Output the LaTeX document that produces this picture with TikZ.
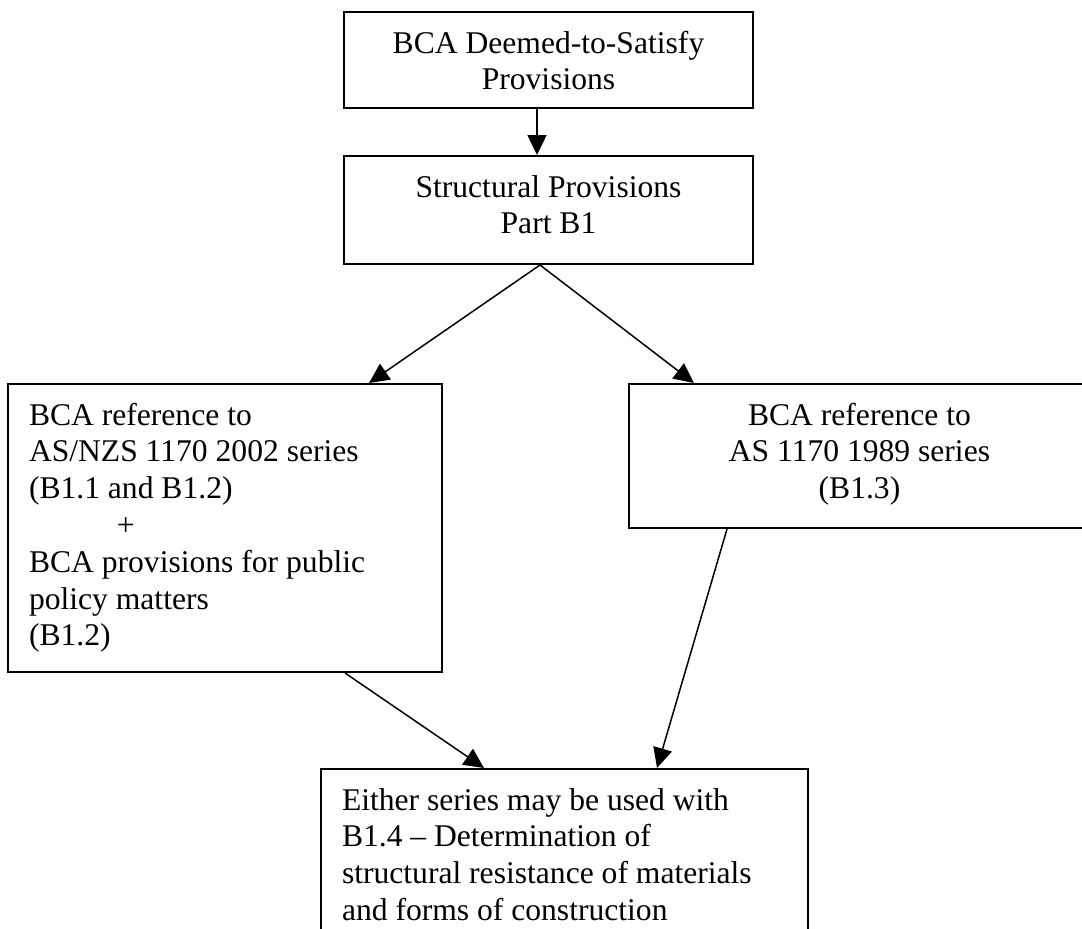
\documentclass[tikz,border=0pt]{standalone}
\usepackage{fontspec}
\setmainfont{Liberation Serif}
\usetikzlibrary{arrows.meta}
\newcommand\BoxC[3]{\parbox[c][#2][t]{#1}{\centering\rule{0pt}{41pt}#3\par}}
\newcommand\BoxL[3]{\hspace*{21pt}\parbox[c][#2][t]{\dimexpr#1-21pt\relax}{\raggedright\rule{0pt}{41pt}#3\par}}
\begin{document}
\begin{tikzpicture}[x=1pt,y=-1pt,
  box/.style={draw, line width=2pt, inner sep=0pt, font=\fontsize{31.6pt}{36.8pt}\selectfont},
  arr/.style={line width=1.5pt, -{Triangle[length=20pt,width=19pt]}}]
\useasboundingbox (0,0) rectangle (1082,929);
\clip (0,0) rectangle (1082,929);
\node[box] (top) at (548.5,60) {\BoxC{409pt}{96pt}{BCA Deemed-to-Satisfy\\Provisions}};
\node[box] (sp) at (548.5,210) {\BoxC{409pt}{108pt}{Structural Provisions\\Part B1}};
\node[box] (lb) at (225,528) {\BoxL{434pt}{288pt}{BCA reference to\\AS/NZS 1170 2002 series\\(B1.1 and B1.2)\\\hspace*{88pt}+\\BCA provisions for public\\policy matters\\(B1.2)}};
\node[box] (rb) at (859.5,456) {\BoxC{461pt}{144pt}{BCA reference to\\AS 1170 1989 series\\(B1.3)}};
\node[box] (bb) at (564.5,869) {\BoxL{487pt}{200pt}{Either series may be used with\\B1.4 – Determination of\\structural resistance of materials\\and forms of construction}};
\draw[arr] ([xshift=-11.5pt]top.south) -- ([xshift=-11.5pt]sp.north);
\draw[arr] ([xshift=-8.5pt]sp.south) -- ([xshift=362pt]lb.north west);
\draw[arr] ([xshift=-8.5pt]sp.south) -- ([xshift=66pt]rb.north west);
\draw[arr] ([xshift=338pt]lb.south west) -- ([xshift=164pt]bb.north west);
\draw[arr] ([xshift=99pt]rb.south west) -- ([xshift=337pt]bb.north west);
\end{tikzpicture}
\end{document}
